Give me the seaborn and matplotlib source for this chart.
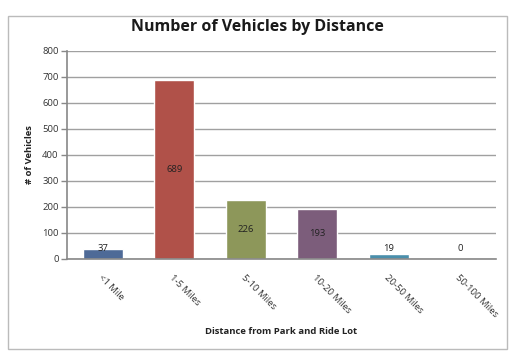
import matplotlib
matplotlib.use("Agg")
import matplotlib.pyplot as plt
import seaborn as sns
import pandas as pd
from matplotlib.patches import Rectangle

categories = ["<1 Mile", "1-5 Miles", "5-10 Miles", "10-20 Miles", "20-50 Miles", "50-100 Miles"]
vehicles = [37, 689, 226, 193, 19, 0]
bar_colors = ["#4E6A97", "#B05149", "#8D975A", "#7C5D7B", "#4A8FAB", "#D98A48"]

df = pd.DataFrame({"Distance": categories, "Vehicles": vehicles})

sns.set_theme(style="white")
plt.rcParams["font.family"] = ["Open Sans", "DejaVu Sans"]

W, H = 514, 356
fig = plt.figure(figsize=(W / 100, H / 100), dpi=100)
ax = fig.add_axes([67 / W, 1 - 259 / H, (496 - 67) / W, (259 - 51) / H])

sns.barplot(data=df, x="Distance", y="Vehicles", hue="Distance", palette=bar_colors,
            legend=False, width=0.56, saturation=1, ax=ax)

ax.set_ylim(0, 800)
ax.set_xlim(-0.5, 5.5)
ax.set_yticks(range(0, 801, 100))
ax.yaxis.grid(True, color="#A0A0A0", linewidth=1)
ax.set_axisbelow(True)
for s in ["top", "right"]:
    ax.spines[s].set_visible(False)
for s in ["left", "bottom"]:
    ax.spines[s].set_color("#888888")
    ax.spines[s].set_linewidth(1.2)
ax.tick_params(axis="y", which="both", left=True, length=4, width=1, color="#888888",
               labelsize=6.8, labelcolor="#333333", pad=2)
ax.tick_params(axis="x", bottom=False, labelsize=6.8, labelcolor="#333333", pad=4)
for lab in ax.get_xticklabels():
    lab.set_rotation(-45)
    lab.set_ha("left")
    lab.set_va("top")
    lab.set_rotation_mode("anchor")

for i, v in enumerate(vehicles):
    y = v / 2 if v > 80 else 40
    ax.text(i, y, str(v), ha="center", va="center", fontsize=6.8, color="#222222")

ax.set_xlabel("")
ax.set_ylabel("# of Vehicles", fontsize=6.8, fontweight="bold", color="#222222", labelpad=6)
fig.text(281.5 / W, 1 - 331 / H, "Distance from Park and Ride Lot", ha="center", va="center",
         fontsize=6.8, fontweight="bold", color="#222222")
fig.text(0.5, 1 - 27 / H, "Number of Vehicles by Distance", ha="center", va="center",
         fontsize=11.5, fontweight="bold", color="#1a1a1a")

fig.patches.append(Rectangle((8 / W, 1 - 349 / H), (507 - 8) / W, (349 - 16) / H,
                             transform=fig.transFigure, fill=False, edgecolor="#BBBBBB",
                             linewidth=1))

fig.savefig("out.png", dpi=100)
